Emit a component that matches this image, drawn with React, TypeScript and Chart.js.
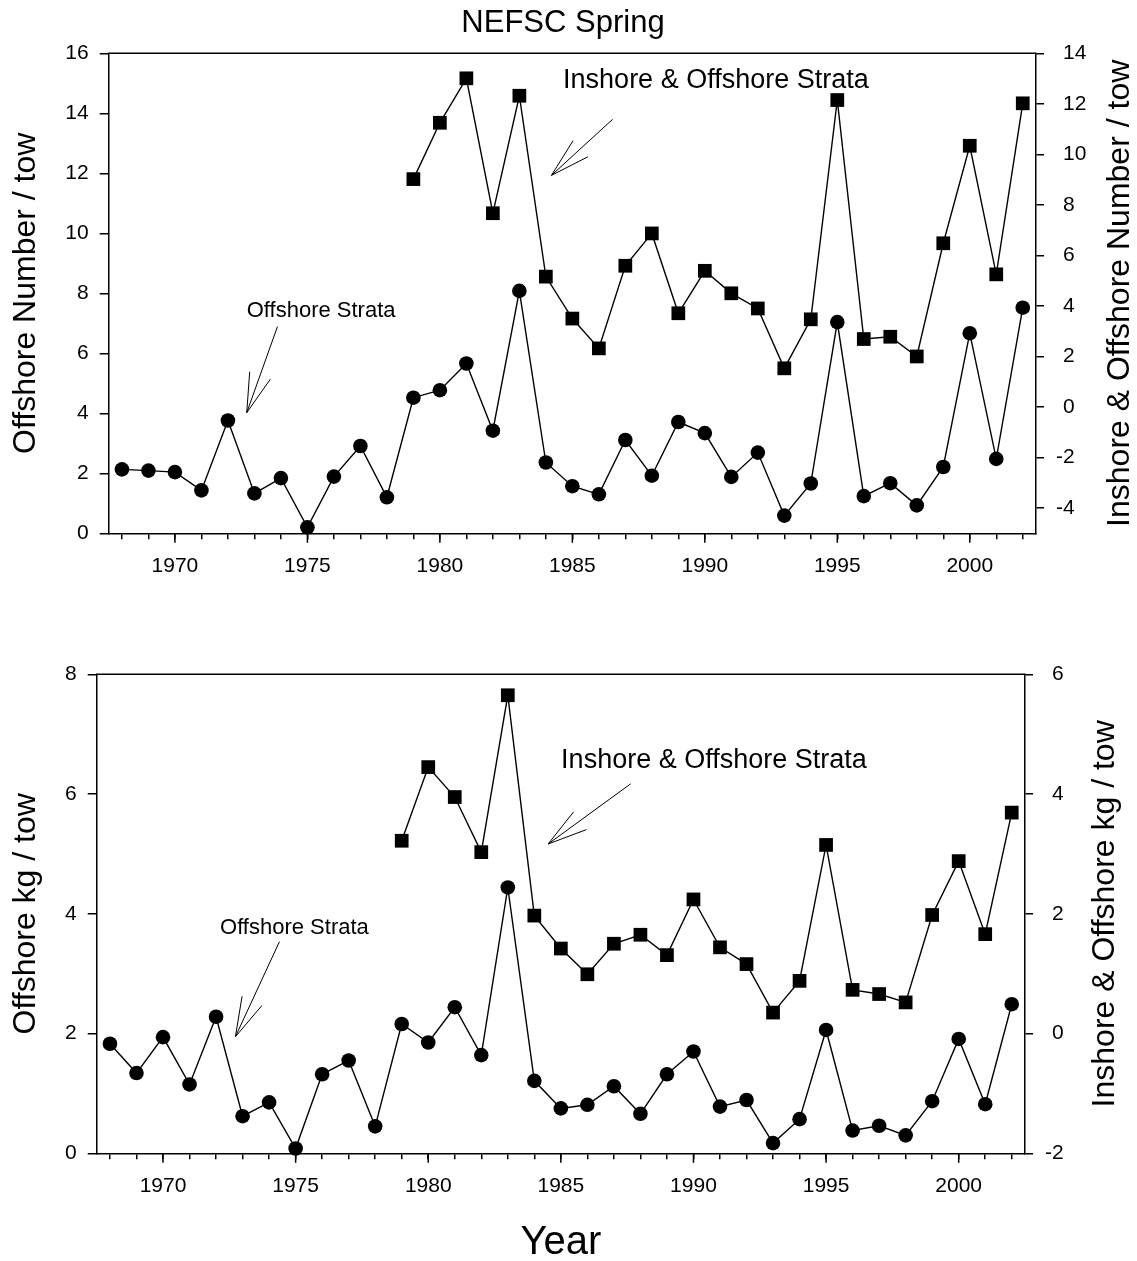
import React, { useEffect, useRef } from 'react';
import { Chart, registerables } from 'chart.js';

Chart.register(...registerables);

// ---------------- DATA ----------------
const years = [
  1968, 1969, 1970, 1971, 1972, 1973, 1974, 1975, 1976, 1977, 1978, 1979,
  1980, 1981, 1982, 1983, 1984, 1985, 1986, 1987, 1988, 1989, 1990, 1991,
  1992, 1993, 1994, 1995, 1996, 1997, 1998, 1999, 2000, 2001, 2002,
];

// Top panel: Offshore Number / tow (left axis, circles)
const offshoreNumber = [
  2.13, 2.09, 2.04, 1.43, 3.76, 1.33, 1.84, 0.2, 1.89, 2.91, 1.2, 4.52,
  4.77, 5.66, 3.42, 8.08, 2.36, 1.57, 1.3, 3.11, 1.92, 3.71, 3.34, 1.88,
  2.69, 0.59, 1.66, 7.04, 1.24, 1.67, 0.93, 2.21, 6.67, 2.48, 7.52,
];

// Top panel: Inshore & Offshore Number / tow (right axis, squares)
const combinedNumber = [
  null, null, null, null, null, null, null, null, null, null, null, 9.02,
  11.25, 13.01, 7.67, 12.32, 5.16, 3.5, 2.32, 5.59, 6.87, 3.71, 5.39, 4.5,
  3.9, 1.53, 3.47, 12.15, 2.69, 2.78, 2.0, 6.48, 10.34, 5.25, 12.02,
];

// Bottom panel: Offshore kg / tow (left axis, circles)
const offshoreKg = [
  1.83, 1.34, 1.94, 1.15, 2.28, 0.62, 0.85, 0.08, 1.32, 1.55, 0.45, 2.16,
  1.85, 2.44, 1.64, 4.44, 1.21, 0.75, 0.81, 1.12, 0.66, 1.32, 1.7, 0.78,
  0.89, 0.17, 0.57, 2.06, 0.38, 0.46, 0.3, 0.87, 1.91, 0.82, 2.49,
];

// Bottom panel: Inshore & Offshore kg / tow (right axis, squares)
const combinedKg = [
  null, null, null, null, null, null, null, null, null, null, null, 3.22,
  4.45, 3.95, 3.03, 5.65, 1.97, 1.42, 0.99, 1.5, 1.65, 1.31, 2.24, 1.44,
  1.16, 0.35, 0.88, 3.15, 0.73, 0.66, 0.52, 1.98, 2.88, 1.66, 3.69,
];

const topLeftTicks = [0, 2, 4, 6, 8, 10, 12, 14, 16];
const topRightTicks = [-4, -2, 0, 2, 4, 6, 8, 10, 12, 14];
const bottomLeftTicks = [0, 2, 4, 6, 8];
const bottomRightTicks = [-2, 0, 2, 4, 6];

// ---------------- STYLE / LAYOUT ----------------
const FONT = "'Liberation Sans', Arial, Helvetica, sans-serif";
const W = 1137;

type Annot = {
  text: string;
  size: number;
  x: number;
  y: number;
  tail: [number, number];
  tip: [number, number];
};

type PanelSpec = {
  left: (number | null)[];
  right: (number | null)[];
  leftMin: number;
  leftMax: number;
  rightMin: number;
  rightMax: number;
  leftTicks: number[];
  rightTicks: number[];
  leftTitle: string;
  rightTitle: string;
  rightTitleX: number;
  leftWidth: number;
  rightWidth: number;
  xHeight: number;
  padTop: number;
  xTitle?: string;
  pageTitle?: string;
  annotations: Annot[];
};

const topSpec: PanelSpec = {
  left: offshoreNumber,
  right: combinedNumber,
  leftMin: 0,
  leftMax: 16,
  rightMin: -5,
  rightMax: 14,
  leftTicks: topLeftTicks,
  rightTicks: topRightTicks,
  leftTitle: 'Offshore Number / tow',
  rightTitle: 'Inshore & Offshore Number / tow',
  rightTitleX: 1120,
  leftWidth: 108.7,
  rightWidth: W - 1036,
  xHeight: 66.7,
  padTop: 53.3,
  pageTitle: 'NEFSC Spring',
  annotations: [
    { text: 'Inshore & Offshore Strata', size: 27, x: 1984.65, y: 14.83, tail: [1986.52, 13.8], tip: [1984.21, 11.93] },
    { text: 'Offshore Strata', size: 22, x: 1972.71, y: 7.22, tail: [1973.87, 6.89], tip: [1972.71, 4.02] },
  ],
};

const bottomSpec: PanelSpec = {
  left: offshoreKg,
  right: combinedKg,
  leftMin: 0,
  leftMax: 8,
  rightMin: -2,
  rightMax: 6,
  leftTicks: bottomLeftTicks,
  rightTicks: bottomRightTicks,
  leftTitle: 'Offshore kg / tow',
  rightTitle: 'Inshore & Offshore kg / tow',
  rightTitleX: 1105,
  leftWidth: 96.7,
  rightWidth: W - 1025,
  xHeight: 107.7,
  padTop: 74.3,
  xTitle: 'Year',
  annotations: [
    { text: 'Inshore & Offshore Strata', size: 27, x: 1985.01, y: 6.43, tail: [1987.63, 6.17], tip: [1984.52, 5.166] },
    { text: 'Offshore Strata', size: 22, x: 1972.15, y: 3.66, tail: [1974.39, 3.534], tip: [1972.73, 1.947] },
  ],
};

function makePlugin(spec: PanelSpec) {
  return {
    id: 'panelDecor',
    afterDraw(chart: any) {
      const { ctx, chartArea: a, scales } = chart;
      const xs = scales.x;
      const yl = scales.yL;
      const yr = scales.yR;
      ctx.save();
      ctx.strokeStyle = '#000';
      ctx.fillStyle = '#000';
      // top frame line
      ctx.lineWidth = 1.5;
      ctx.beginPath();
      ctx.moveTo(a.left - 0.75, a.top);
      ctx.lineTo(a.right + 0.75, a.top);
      ctx.stroke();
      // longer major ticks
      xs.ticks.forEach((t: any) => {
        if (t.value % 5 === 0) {
          const px = xs.getPixelForValue(t.value);
          ctx.beginPath();
          ctx.moveTo(px, a.bottom);
          ctx.lineTo(px, a.bottom + 9.5);
          ctx.stroke();
        }
      });
      // right tick labels (minus sign hanging to the left)
      ctx.font = `21px ${FONT}`;
      ctx.textBaseline = 'middle';
      ctx.textAlign = 'left';
      const minusW = ctx.measureText('-').width;
      yr.ticks.forEach((t: any) => {
        const py = yr.getPixelForValue(t.value);
        ctx.fillText(String(t.value), a.right + 27 - (t.value < 0 ? minusW : 0), py);
      });
      // right axis title
      ctx.save();
      ctx.translate(spec.rightTitleX, (a.top + a.bottom) / 2);
      ctx.rotate(-Math.PI / 2);
      ctx.font = `32px ${FONT}`;
      ctx.textAlign = 'center';
      ctx.textBaseline = 'middle';
      ctx.fillText(spec.rightTitle, 0, 0);
      ctx.restore();
      // annotations
      spec.annotations.forEach((an) => {
        ctx.font = `${an.size}px ${FONT}`;
        ctx.textAlign = 'left';
        ctx.textBaseline = 'alphabetic';
        ctx.fillText(an.text, xs.getPixelForValue(an.x), yl.getPixelForValue(an.y));
        const tx = xs.getPixelForValue(an.tip[0]);
        const ty = yl.getPixelForValue(an.tip[1]);
        const sx = xs.getPixelForValue(an.tail[0]);
        const sy = yl.getPixelForValue(an.tail[1]);
        ctx.lineWidth = 1;
        ctx.beginPath();
        ctx.moveTo(sx, sy);
        ctx.lineTo(tx, ty);
        const ang = Math.atan2(sy - ty, sx - tx);
        for (const d of [-1, 1]) {
          const a2 = ang + (d * 15.5 * Math.PI) / 180;
          ctx.moveTo(tx, ty);
          ctx.lineTo(tx + 41 * Math.cos(a2), ty + 41 * Math.sin(a2));
        }
        ctx.stroke();
      });
      // page title
      if (spec.pageTitle) {
        ctx.font = `31px ${FONT}`;
        ctx.textAlign = 'center';
        ctx.textBaseline = 'alphabetic';
        ctx.fillText(spec.pageTitle, 563, 32.3);
      }
      ctx.restore();
    },
  };
}

function makeConfig(spec: PanelSpec): any {
  const leftPts = years.map((yr, i) => ({ x: yr, y: spec.left[i] })).filter((p) => p.y !== null);
  const rightPts = years.map((yr, i) => ({ x: yr, y: spec.right[i] })).filter((p) => p.y !== null);
  const lineStyle = {
    borderColor: '#000',
    borderWidth: 1.4,
    pointBackgroundColor: '#000',
    pointBorderColor: '#000',
    pointBorderWidth: 0,
    tension: 0,
    clip: false,
    fill: false,
  };
  return {
    type: 'line',
    data: {
      datasets: [
        { ...lineStyle, label: spec.leftTitle, data: leftPts, yAxisID: 'yL', pointStyle: 'circle', pointRadius: 7.3 },
        { ...lineStyle, label: spec.rightTitle, data: rightPts, yAxisID: 'yR', pointStyle: 'rect', pointRadius: 9.7 },
      ],
    },
    options: {
      animation: false,
      responsive: false,
      devicePixelRatio: 1,
      events: [],
      layout: { padding: { top: spec.padTop, left: 0, right: 0, bottom: 0 } },
      plugins: { legend: { display: false }, tooltip: { enabled: false }, title: { display: false } },
      scales: {
        x: {
          type: 'linear',
          position: 'bottom',
          min: 1967.5,
          max: 2002.5,
          afterBuildTicks: (s: any) => {
            s.ticks = years.map((v) => ({ value: v }));
          },
          afterFit: (s: any) => {
            s.height = spec.xHeight;
          },
          ticks: {
            autoSkip: false,
            maxRotation: 0,
            minRotation: 0,
            padding: 14,
            color: '#000',
            font: { family: FONT, size: 21 },
            callback: (v: any) => (Number(v) % 5 === 0 ? String(v) : ''),
          },
          grid: { display: true, drawOnChartArea: false, drawTicks: true, tickLength: 6, color: '#000', lineWidth: 1.5 },
          border: { display: true, color: '#000', width: 1.5 },
          title: spec.xTitle
            ? {
                display: true,
                text: spec.xTitle,
                color: '#000',
                font: { family: FONT, size: 40, lineHeight: 0.9 },
                padding: { top: 0, bottom: 0 },
              }
            : { display: false },
        },
        yL: {
          type: 'linear',
          position: 'left',
          min: spec.leftMin,
          max: spec.leftMax,
          afterBuildTicks: (s: any) => {
            s.ticks = spec.leftTicks.map((v) => ({ value: v }));
          },
          afterFit: (s: any) => {
            s.width = spec.leftWidth;
          },
          ticks: { padding: 11, color: '#000', font: { family: FONT, size: 21 }, callback: (v: any) => String(v) },
          grid: { display: true, drawOnChartArea: false, drawTicks: true, tickLength: 9, color: '#000', lineWidth: 1.5 },
          border: { display: true, color: '#000', width: 1.5 },
          title: {
            display: true,
            text: spec.leftTitle,
            color: '#000',
            font: { family: FONT, size: 32, lineHeight: 1.2 },
            padding: { top: 6.6, bottom: 0 },
          },
        },
        yR: {
          type: 'linear',
          position: 'right',
          min: spec.rightMin,
          max: spec.rightMax,
          afterBuildTicks: (s: any) => {
            s.ticks = spec.rightTicks.map((v) => ({ value: v }));
          },
          afterFit: (s: any) => {
            s.width = spec.rightWidth;
          },
          ticks: { display: false },
          grid: { display: true, drawOnChartArea: false, drawTicks: true, tickLength: 8, color: '#000', lineWidth: 1.5 },
          border: { display: true, color: '#000', width: 1.5 },
        },
      },
    },
    plugins: [makePlugin(spec)],
  };
}

function Panel({ spec, top, height }: { spec: PanelSpec; top: number; height: number }) {
  const ref = useRef<HTMLCanvasElement | null>(null);
  useEffect(() => {
    if (!ref.current) return;
    const chart = new Chart(ref.current, makeConfig(spec));
    return () => chart.destroy();
  }, [spec]);
  return (
    <canvas
      ref={ref}
      width={W}
      height={height}
      style={{ position: 'absolute', left: 0, top, width: W, height, display: 'block' }}
    />
  );
}

export default function App() {
  return (
    <div style={{ position: 'absolute', left: 0, top: 0, width: W, height: 1261, background: '#fff', overflow: 'hidden' }}>
      <Panel spec={topSpec} top={0} height={600} />
      <Panel spec={bottomSpec} top={600} height={661} />
    </div>
  );
}
